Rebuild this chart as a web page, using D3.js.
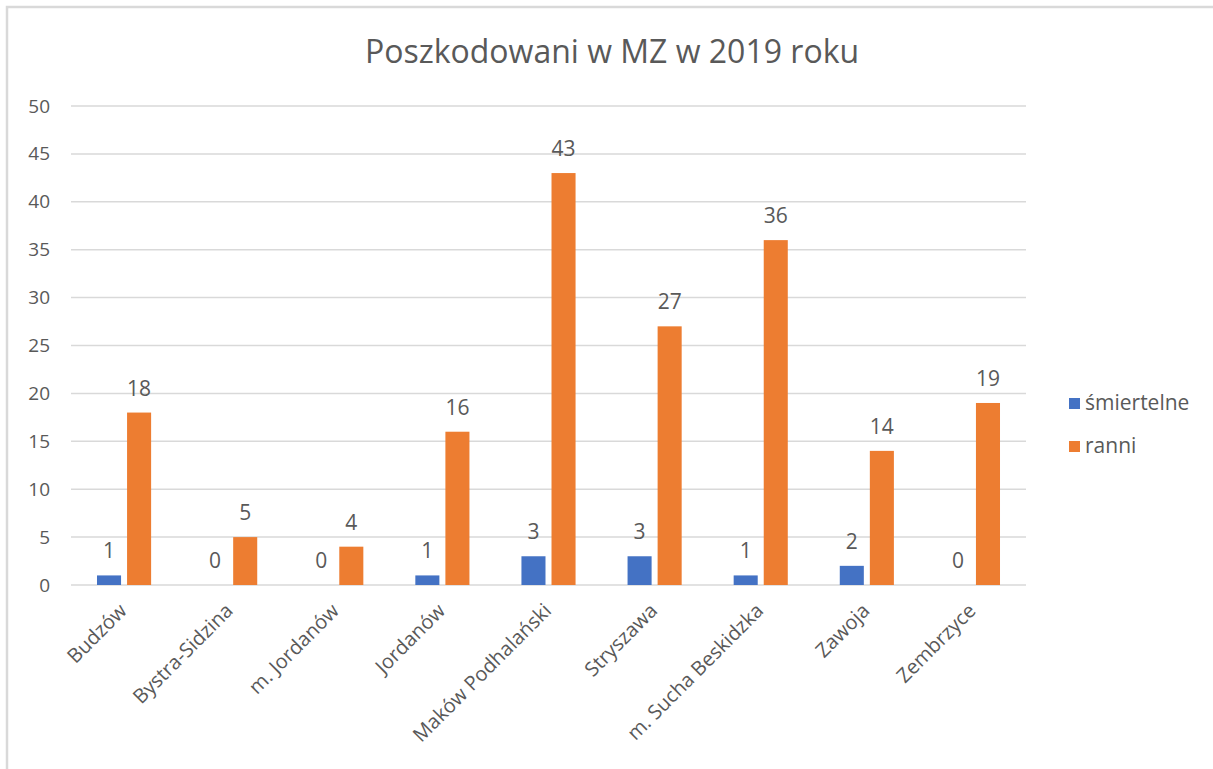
<!DOCTYPE html>
<html>
<head>
<meta charset="utf-8">
<style>
    body { margin: 0; background-color: #fff; }
    svg { display: block; }
    text { font-family: "Open Sans", sans-serif; fill: #595959; }
</style>
<script src="https://d3js.org/d3.v7.min.js"></script>
</head>
<body>
<div id="chart"></div>
<script>
    var gminy = ["Budzów", "Bystra-Sidzina", "m. Jordanów", "Jordanów", "Maków Podhalański",
                 "Stryszawa", "m. Sucha Beskidzka", "Zawoja", "Zembrzyce"];
    var serie = ["śmiertelne", "ranni"];
    var smiertelne = [1, 0, 0, 1, 3, 3, 1, 2, 0];
    var ranni = [18, 5, 4, 16, 43, 27, 36, 14, 19];
    var yTicks = [0, 5, 10, 15, 20, 25, 30, 35, 40, 45, 50];
    var kolory = ["#4472c4", "#ed7d31"];

    var W = 1213, H = 769;
    var svg = d3.select("#chart").append("svg")
        .attr("width", W)
        .attr("height", H);

    // ramka wokol wykresu
    svg.append("path")
        .attr("d", "M7," + H + " V7 H" + W)
        .attr("fill", "none")
        .attr("stroke", "#d9d9d9")
        .attr("stroke-width", 2.5);

    svg.append("text")
        .attr("x", 612)
        .attr("y", 63)
        .attr("text-anchor", "middle")
        .style("font-size", "32px")
        .text("Poszkodowani w MZ w 2019 roku");

    var x0 = d3.scaleBand().domain(gminy).range([71, 1026]).paddingInner(0.49).paddingOuter(0.245);
    var x1 = d3.scaleBand().domain(serie).range([0, x0.bandwidth()]).paddingInner(0.2);
    var y = d3.scaleLinear().domain([0, 50]).range([585, 106]);

    // siatka
    svg.append("g").selectAll("line")
        .data(yTicks)
        .enter().append("line")
        .attr("x1", 71).attr("x2", 1026)
        .attr("y1", function (d) { return y(d); })
        .attr("y2", function (d) { return y(d); })
        .attr("stroke", "#d9d9d9")
        .attr("stroke-width", 1.5);

    var yAxis = svg.append("g")
        .attr("transform", "translate(58,0)")
        .call(d3.axisLeft(y).tickValues(yTicks).tickSize(0).tickPadding(8));
    yAxis.select(".domain").remove();
    yAxis.selectAll("text")
        .style("font-size", "19px")
        .style("font-family", "Open Sans, sans-serif")
        .attr("fill", "#595959");

    var rows = gminy.map(function (g, i) {
        return { gmina: g, values: [smiertelne[i], ranni[i]] };
    });

    var groups = svg.append("g").selectAll("g")
        .data(rows)
        .enter().append("g")
        .attr("transform", function (d) { return "translate(" + x0(d.gmina) + ",0)"; });

    groups.selectAll("rect")
        .data(function (d) { return d.values.map(function (v, j) { return { s: serie[j], v: v, j: j }; }); })
        .enter().append("rect")
        .attr("x", function (d) { return x1(d.s); })
        .attr("width", x1.bandwidth())
        .attr("y", function (d) { return y(d.v); })
        .attr("height", function (d) { return y(0) - y(d.v); })
        .attr("fill", function (d) { return kolory[d.j]; });

    groups.selectAll("text.lbl")
        .data(function (d) { return d.values.map(function (v, j) { return { s: serie[j], v: v }; }); })
        .enter().append("text")
        .attr("class", "lbl")
        .attr("x", function (d) { return x1(d.s) + x1.bandwidth() / 2; })
        .attr("y", function (d) { return y(d.v) - 17; })
        .attr("text-anchor", "middle")
        .style("font-size", "21px")
        .text(function (d) { return d.v; });

    // etykiety osi X
    var xAxis = svg.append("g")
        .attr("transform", "translate(0,585)")
        .call(d3.axisBottom(x0).tickSize(0).tickPadding(0));
    xAxis.select(".domain").remove();
    xAxis.selectAll("text")
        .style("font-size", "20px")
        .style("font-family", "Open Sans, sans-serif")
        .attr("fill", "#595959")
        .attr("text-anchor", "end")
        .attr("dy", null)
        .attr("y", 0)
        .attr("transform", "translate(4,27) rotate(-45)");

    // legenda
    var leg = svg.append("g").selectAll("g")
        .data(serie)
        .enter().append("g")
        .attr("transform", function (d, i) { return "translate(1069," + (398 + i * 43) + ")"; });
    leg.append("rect")
        .attr("width", 11).attr("height", 11)
        .attr("fill", function (d, i) { return kolory[i]; });
    leg.append("text")
        .attr("x", 16)
        .attr("y", 12)
        .style("font-size", "21px")
        .text(function (d) { return d; });
</script>
</body>
</html>
